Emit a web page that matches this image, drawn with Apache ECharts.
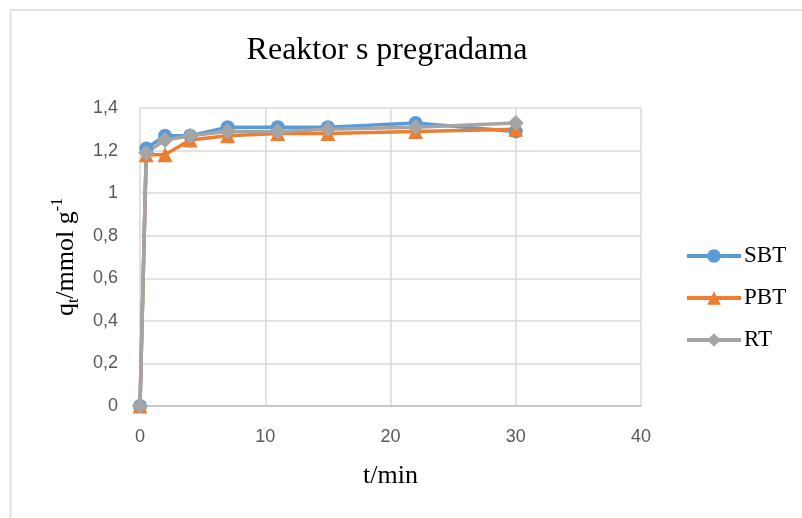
<!DOCTYPE html>
<html>
<head>
<meta charset="utf-8">
<script src="https://cdn.jsdelivr.net/npm/echarts@6/dist/echarts.min.js"></script>
<style>
  html, body { margin: 0; padding: 0; background: #fff; }
  #chart { width: 802px; height: 518px; }
</style>
</head>
<body>
<div id="chart"></div>
<script>
// vrijeme (min)
const times = [0, 0.5, 2, 4, 7, 11, 15, 22, 30];
// q_t vrijednosti po seriji
const sbt = [0, 1.21, 1.27, 1.27, 1.31, 1.31, 1.31, 1.33, 1.29];
const pbt = [0, 1.18, 1.18, 1.25, 1.27, 1.28, 1.28, 1.29, 1.30];
const rt = [0, 1.19, 1.25, 1.27, 1.29, 1.29, 1.30, 1.31, 1.33];
const seriesNames = ['SBT', 'PBT', 'RT'];

const tickFont = '"Liberation Sans", sans-serif';
const serif = '"Liberation Serif", "DejaVu Serif", serif';

const chart = echarts.init(document.getElementById('chart'));

function pairs(values) {
    return times.map((t, i) => [t, values[i]]);
}

function makeSeries(name, values, color, symbol, size) {
    return {
        name: name,
        type: 'line',
        data: pairs(values),
        symbol: symbol,
        symbolSize: size,
        lineStyle: { color: color, width: 3.5 },
        itemStyle: { color: color },
        emphasis: { disabled: true }
    };
}

const option = {
    animation: false,
    title: {
        text: 'Reaktor s pregradama',
        left: 382,
        textAlign: 'center',
        top: 30,
        textStyle: { fontFamily: serif, fontSize: 32, fontWeight: 'normal', color: '#000' }
    },
    graphic: [{
        type: 'rect',
        shape: { x: 10.5, y: 10, width: 900, height: 600 },
        style: { fill: 'none', stroke: '#d9d9d9', lineWidth: 1.5 },
        silent: true
    }],
    legend: {
        data: seriesNames,
        orient: 'vertical',
        left: 685,
        top: 244,
        padding: 0,
        itemWidth: 54,
        itemHeight: 17,
        itemGap: 18,
        lineStyle: { width: 4 },
        textStyle: { fontFamily: serif, fontSize: 23, lineHeight: 24, color: '#000', padding: [0, 0, 0, -2] }
    },
    grid: { left: 140, right: 161, top: 108, bottom: 112 },
    xAxis: {
        type: 'value',
        min: 0,
        max: 40,
        interval: 10,
        name: 't/min',
        nameLocation: 'middle',
        nameGap: 57,
        nameTextStyle: { fontFamily: serif, fontSize: 26, color: '#000' },
        axisLine: { show: true, lineStyle: { color: '#bfbfbf', width: 1.5 } },
        axisTick: { show: false },
        axisLabel: { margin: 22, fontFamily: tickFont, fontSize: 18, color: '#595959' },
        splitLine: { show: true, lineStyle: { color: '#d9d9d9', width: 1.5 } }
    },
    yAxis: {
        type: 'value',
        min: 0,
        max: 1.4,
        interval: 0.2,
        name: '{n|q}{sub|t}{n|/mmol g}{sup|-1}',
        nameLocation: 'middle',
        nameGap: 58,
        nameRotate: 90,
        nameTextStyle: {
            fontFamily: serif,
            fontSize: 26,
            color: '#000',
            rich: {
                n: { fontFamily: serif, fontSize: 26, color: '#000', verticalAlign: 'middle', lineHeight: 32 },
                sub: { fontFamily: serif, fontSize: 16, color: '#000', verticalAlign: 'bottom', lineHeight: 32 },
                sup: { fontFamily: serif, fontSize: 16, color: '#000', verticalAlign: 'top', lineHeight: 32 }
            }
        },
        axisLine: { show: false },
        axisTick: { show: false },
        axisLabel: {
            margin: 22,
            fontFamily: tickFont,
            fontSize: 18,
            color: '#595959',
            formatter: v => String(Math.round(v * 10) / 10).replace('.', ',')
        },
        splitLine: { show: true, lineStyle: { color: '#d9d9d9', width: 1.5 } }
    },
    series: [
        makeSeries('SBT', sbt, '#5b9bd5', 'circle', 14),
        makeSeries('PBT', pbt, '#ed7d31', 'triangle', 15),
        makeSeries('RT', rt, '#a5a5a5', 'diamond', 16)
    ]
};

chart.setOption(option);
</script>
</body>
</html>
